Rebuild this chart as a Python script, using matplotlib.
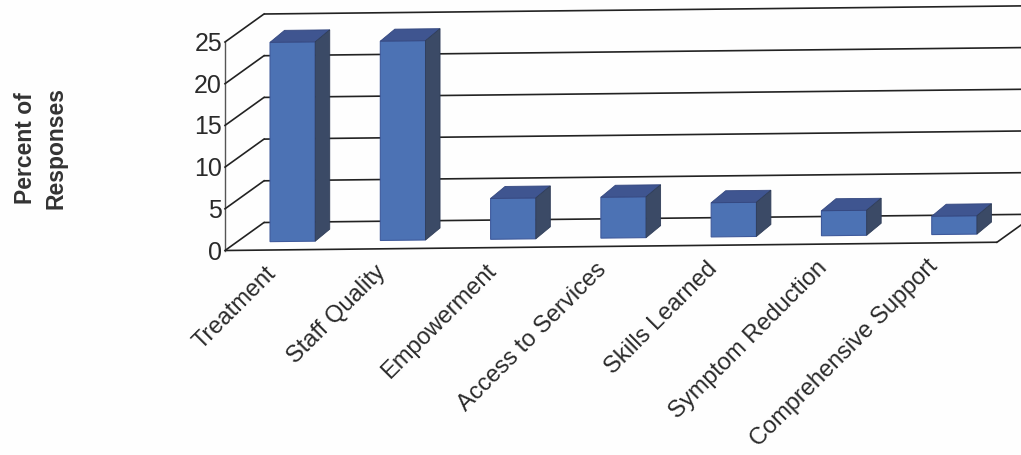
import matplotlib
matplotlib.use("Agg")
import matplotlib.pyplot as plt
from matplotlib.transforms import Affine2D

categories = ["Treatment", "Staff Quality", "Empowerment", "Access to Services",
              "Skills Learned", "Symptom Reduction", "Comprehensive Support"]
values = [23.9, 23.9, 4.9, 4.9, 4.1, 3.0, 2.2]
yticks = [0, 5, 10, 15, 20, 25]

W, H = 1021, 455
plt.rcParams['font.family'] = ['Liberation Sans', 'DejaVu Sans']
fig = plt.figure(figsize=(W/100, H/100), dpi=100, facecolor='#fefefe')

# plot rectangle of the front plane
x0, y0 = 225, H - 250.5
ax = fig.add_axes([x0/W, y0/H, 772/W, 208.5/H])
ax.set_xlim(0, 7)
ax.set_ylim(0, 25)
ax.axis('off')

slope = 0.0107
shear = (Affine2D().translate(-x0, -y0)
         + Affine2D.from_values(1, slope, 0, 1, 0, 0)
         + Affine2D().translate(x0, y0))
front = ax.transData + shear
back = front + Affine2D().translate(39, 28)
bar_front = front + Affine2D().translate(12.5, 8.5)
bar_back = bar_front + Affine2D().translate(14.5, 12)

LC = '#222222'
kw = dict(color=LC, lw=1.2, clip_on=False, solid_capstyle='butt')
# walls and gridlines
for t in yticks:
    ax.plot([0, 7], [t, t], transform=back, zorder=1, **kw)
    p0 = front.transform((0, t))
    p1 = back.transform((0, t))
    fig.add_artist(plt.Line2D([p0[0]/W, p1[0]/W], [p0[1]/H, p1[1]/H], color=LC, lw=1.2))
# floor
ax.plot([0, 7], [0, 0], transform=front, zorder=1, **kw)
pr0 = front.transform((7, 0)); pr1 = back.transform((7, 0))
fig.add_artist(plt.Line2D([pr0[0]/W, pr1[0]/W], [pr0[1]/H, pr1[1]/H], color=LC, lw=1.2))
# y axis line
ax.plot([0, 0], [0, 25], transform=front, color='#555555', lw=1.0, clip_on=False, zorder=1)

# bars
bw = 0.41
for i, v in enumerate(values):
    l, r = i + 0.5 - bw/2, i + 0.5 + bw/2
    ax.fill([l, r, r, l], [0, 0, v, v], transform=bar_front, color='#4c72b4',
            ec='#3f5a9c', lw=0.8, zorder=4, clip_on=False)
    a, b = bar_front.transform((l, v)), bar_front.transform((r, v))
    c, d = bar_back.transform((r, v)), bar_back.transform((l, v))
    e = bar_front.transform((r, 0)); f = bar_back.transform((r, 0))
    fig.add_artist(plt.Polygon([tuple(a), tuple(b), tuple(c), tuple(d)],
                               transform=None, fc='#3f5590', ec='#34477f', lw=0.6, zorder=5))
    fig.add_artist(plt.Polygon([tuple(b), tuple(c), tuple(f), tuple(e)],
                               transform=None, fc='#3b4a66', ec='#2f3d58', lw=0.6, zorder=5))

# y tick labels
tick_tr = front + Affine2D().translate(-3, -2)
for t in yticks:
    ax.text(0, t, str(t), transform=tick_tr, ha='right', va='center',
            fontsize=18, color='#2a2a2a', clip_on=False)

# category labels
for i, c in enumerate(categories):
    ax.text(i + 0.36, -1.5, c, transform=front, rotation=45, rotation_mode='anchor',
            ha='right', va='top', fontsize=17, color='#2a2a2a', clip_on=False)

# axis title, one text per line
title_lines = ["Percent of", "Responses"]
for line, px in zip(title_lines, (26, 56)):
    fig.text(px/W, 1 - 148/H, line, rotation=90, ha='center', va='center',
             fontsize=16.5, fontweight='bold', color='#333333')

fig.savefig("out.png", dpi=100, facecolor=fig.get_facecolor())
